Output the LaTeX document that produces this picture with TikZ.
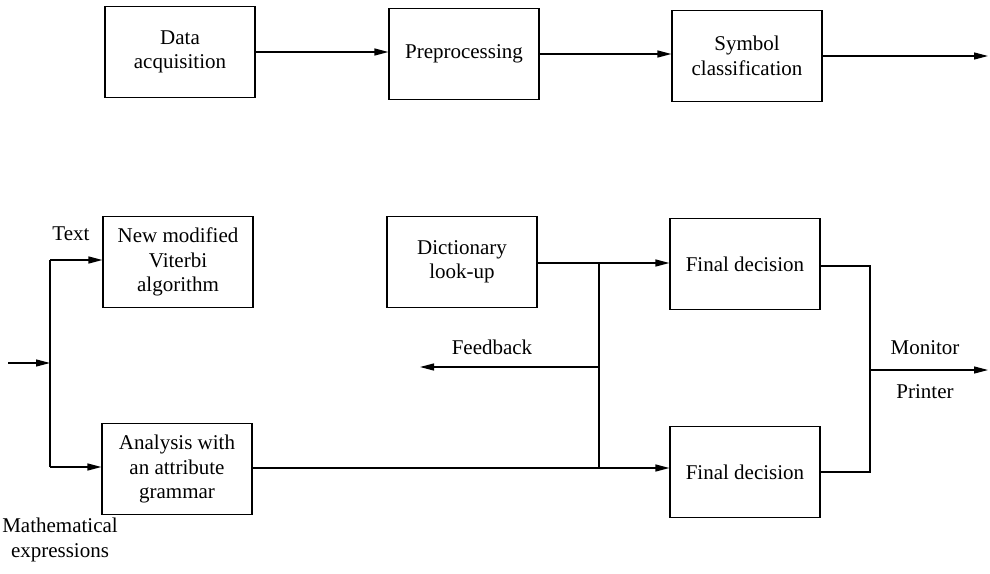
\documentclass[tikz,border=0pt]{standalone}
\usepackage{fontspec}
\setmainfont{Liberation Serif}
\usetikzlibrary{arrows.meta}
\begin{document}
\begin{tikzpicture}[x=1pt,y=-1pt,
  blk/.style={draw,line width=1.2pt,minimum width=150pt,minimum height=91pt,inner sep=0pt,align=center,font=\fontsize{21}{24.5}\selectfont},
  lbl/.style={inner sep=0pt,align=center,font=\fontsize{21}{24.5}\selectfont},
  con/.style={line width=1.3pt},
  arr/.style={con,-{Triangle[length=14pt,width=7pt]}}]
\useasboundingbox (0,0) rectangle (990,573);
% top row
\node[blk] (da) at (180,52) {Data\\acquisition};
\node[blk] (pre) at (464,54) {Preprocessing};
\node[blk] (sym) at (747,56) {Symbol\\classification};
\coordinate (topout) at (988,57);
\draw[arr] (da.east) -- (da.east -| pre.west);
\draw[arr] (pre.east) -- (pre.east -| sym.west);
\draw[arr] (sym.east) -- (sym.east -| topout);
% bottom part
\node[blk] (vit) at (178,262) {New modified\\Viterbi\\algorithm};
\node[blk] (dic) at (462,262) {Dictionary\\look-up};
\node[blk] (fd1) at (745,264) {Final decision};
\node[blk] (ana) at (177,469) {Analysis with\\an attribute\\grammar};
\node[blk] (fd2) at (745,472) {Final decision};
% input
\coordinate (in) at (8,363);
\coordinate (split) at (50,363);
\draw[arr] (in) -- (split);
\draw[con] (50,260) -- (50,467);
\draw[arr] (50,260) -- (vit.west |- 50,260);
\draw[arr] (50,467) -- (ana.west |- 50,467);
\node[lbl] (txt) at (71,234) {Text};
\node[lbl] (math) at (60,540) {Mathematical\\expressions};
% dictionary and feedback
\coordinate (j1) at (599,263);
\coordinate (j2) at (599,468);
\coordinate (fb) at (420,367);
\draw[arr] (dic.east |- j1) -- (fd1.west |- j1);
\draw[con] (j1) -- (j2);
\draw[arr] (j1 |- fb) -- (fb);
\node[lbl] (fbl) at (492,347) {Feedback};
\draw[arr] (ana.east |- j2) -- (fd2.west |- j2);
% output
\coordinate (o1) at (870,266);
\coordinate (o2) at (870,472);
\coordinate (out) at (988,370);
\draw[con] (fd1.east |- o1) -- (o1) -- (o2) -- (fd2.east |- o2);
\draw[arr] (o1 |- out) -- (out);
\node[lbl] (mon) at (925,348) {Monitor};
\node[lbl] (prn) at (925,392) {Printer};
\end{tikzpicture}
\end{document}
